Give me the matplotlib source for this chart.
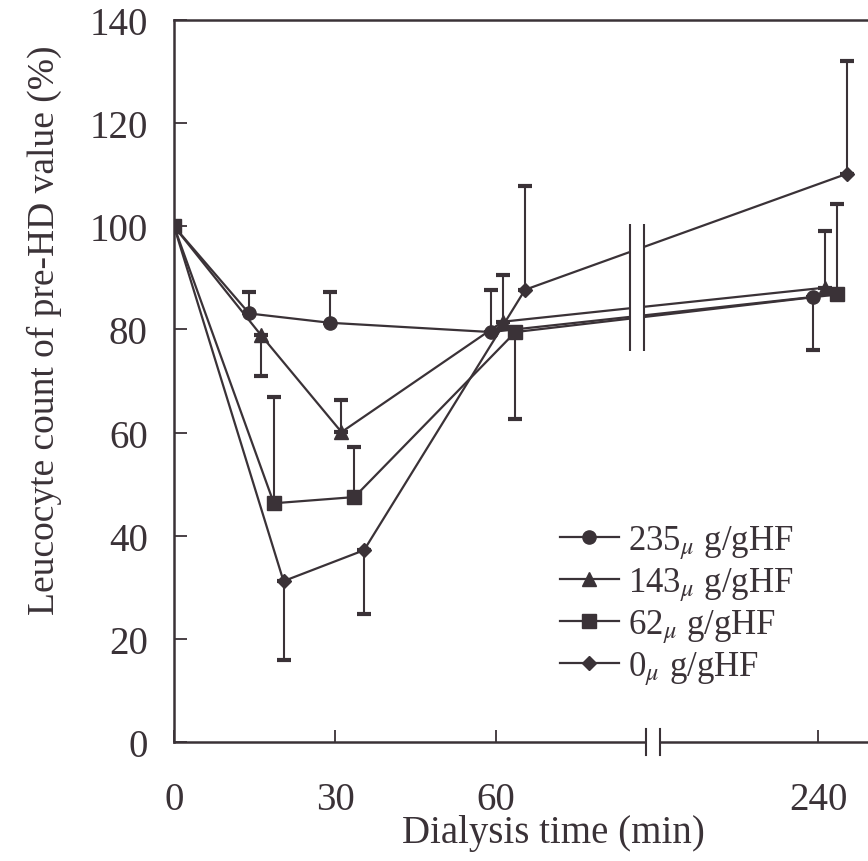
import numpy as np
import matplotlib
matplotlib.use("Agg")
import matplotlib.pyplot as plt
from matplotlib.patches import Rectangle

plt.rcParams['font.family'] = ['Liberation Serif', 'DejaVu Serif']
plt.rcParams['mathtext.fontset'] = 'stix'

INK = '#3a3237'

# sampling times (min); the 240 min point sits after an axis break
times = [0, 15, 30, 60, 240]
tick_times = [0, 30, 60, 240]

labels = [r'235$_{\mu}$ g/gHF', r'143$_{\mu}$ g/gHF', r'62$_{\mu}$ g/gHF',
          r'0$_{\mu}$ g/gHF']
markers = ['o', '^', 's', 'D']

# leucocyte count, % of pre-HD value
wbc_235 = [100, 83.1, 81.3, 79.5, 86.3]
wbc_143 = [100, 78.9, 60.1, 81.5, 88.1]
wbc_62 = [100, 46.3, 47.5, 79.5, 86.8]
wbc_0 = [100, 31.2, 37.2, 87.7, 110.2]

# end of the one-sided SD bar for each point (nan = no bar)
sd_end_235 = [np.nan, 87.2, 87.3, 87.6, 76.0]
sd_end_143 = [np.nan, 71.0, 66.3, 90.5, 99.1]
sd_end_62 = [np.nan, 66.9, 57.2, 62.6, 104.3]
sd_end_0 = [np.nan, 16.0, 24.9, 107.9, 132.0]

series = [wbc_235, wbc_143, wbc_62, wbc_0]
sd_ends = [sd_end_235, sd_end_143, sd_end_62, sd_end_0]


def axis_pos(t):
    # 0-60 min on a linear scale, 240 min drawn at position 120
    t = np.asarray(t, dtype=float)
    return np.where(t > 60, 120 + (t - 240) * 0.5, t)


# small horizontal shift per group so the symbols don't overlap
shifts = [-1.0, 1.2, 3.6, 5.4]

fig = plt.figure(figsize=(8.68, 8.62), dpi=100)
ax = fig.add_axes([0.2005, 0.138, 0.7995, 0.8376])

for vals, ends, mk, lab, dx in zip(series, sd_ends, markers, labels, shifts):
    vals = np.asarray(vals)
    ends = np.asarray(ends)
    x = axis_pos(times) + np.where(np.asarray(times) > 0, dx, 0)
    lo = np.nan_to_num(np.where(ends < vals, vals - ends, 0))
    hi = np.nan_to_num(np.where(ends > vals, ends - vals, 0))
    ax.errorbar(x, vals, yerr=[lo, hi], fmt='none', ecolor=INK,
                elinewidth=1.5, capsize=5, capthick=3, zorder=2)
    ms = 7.5 if mk == 'D' else 9.5
    ax.plot(x, vals, marker=mk, color=INK, lw=1.6, ms=ms,
            markeredgecolor=INK, label=lab, zorder=4)

# break in the lines between 60 and 240 min
bx0, bx1 = 85.0, 87.6
ax.add_patch(Rectangle((bx0, 75.8), bx1 - bx0, 24.6, facecolor='white',
                       edgecolor='none', zorder=5))
ax.vlines([bx0, bx1], 75.8, 100.4, color=INK, lw=1.5, zorder=6)

ax.set_xlim(0, 129.3)
ax.set_ylim(0, 140)
ax.set_yticks(np.arange(0, 141, 20))
ax.set_xticks(axis_pos(tick_times))
ax.set_xticklabels([str(t) for t in tick_times])

ax.spines['right'].set_visible(False)
for s in ['left', 'bottom', 'top']:
    ax.spines[s].set_color(INK)
    ax.spines[s].set_linewidth(1.8)

ax.tick_params(axis='both', direction='in', length=9, width=1.3, color=INK,
               labelcolor=INK)
ax.tick_params(axis='y', pad=19, labelsize=28)
ax.tick_params(axis='x', pad=28, labelsize=28)

# break marks on the time axis
tr = ax.get_xaxis_transform()
ax.add_patch(Rectangle((88.1, -0.01), 2.4, 0.02, transform=tr,
                       facecolor='white', edgecolor='none', clip_on=False,
                       zorder=7))
for xb in (88.0, 90.6):
    ax.plot([xb, xb], [-0.018, 0.018], transform=tr, color=INK, lw=1.5,
            clip_on=False, zorder=8)

ax.set_xlabel('Dialysis time (min)', fontsize=28, color=INK)
ax.set_ylabel('Leucocyte count of pre-HD value (%)', fontsize=27, color=INK)
ax.xaxis.set_label_coords(0.546, -0.1)
ax.yaxis.set_label_coords(-0.161, 0.572)

ax.legend(loc='upper left', bbox_to_anchor=(0.556, 0.303), frameon=False,
          fontsize=25, handlelength=1.7, handletextpad=0.25,
          labelspacing=0.12, borderpad=0, borderaxespad=0,
          labelcolor=INK)

fig.savefig('out.png', dpi=100)
